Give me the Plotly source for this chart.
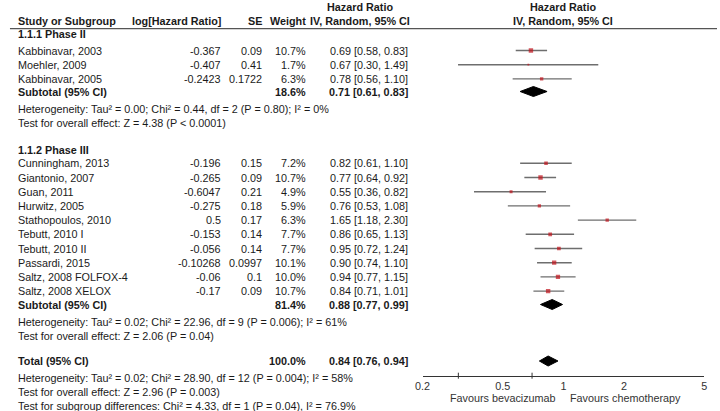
import math
import plotly.graph_objects as go

# ---------------- data ----------------
p2_studies = ["Kabbinavar, 2003", "Moehler, 2009", "Kabbinavar, 2005"]
p2_loghr = ["-0.367", "-0.407", "-0.2423"]
p2_se = ["0.09", "0.41", "0.1722"]
p2_weight = [10.7, 1.7, 6.3]
p2_hr = [0.69, 0.67, 0.78]
p2_lo = [0.58, 0.30, 0.56]
p2_hi = [0.83, 1.49, 1.10]

p3_studies = ["Cunningham, 2013", "Giantonio, 2007", "Guan, 2011", "Hurwitz, 2005",
              "Stathopoulos, 2010", "Tebutt, 2010 I", "Tebutt, 2010 II", "Passardi, 2015",
              "Saltz, 2008 FOLFOX-4", "Saltz, 2008 XELOX"]
p3_loghr = ["-0.196", "-0.265", "-0.6047", "-0.275", "0.5", "-0.153", "-0.056",
            "-0.10268", "-0.06", "-0.17"]
p3_se = ["0.15", "0.09", "0.21", "0.18", "0.17", "0.14", "0.14", "0.0997", "0.1", "0.09"]
p3_weight = [7.2, 10.7, 4.9, 5.9, 6.3, 7.7, 7.7, 10.1, 10.0, 10.7]
p3_hr = [0.82, 0.77, 0.55, 0.76, 1.65, 0.86, 0.95, 0.90, 0.94, 0.84]
p3_lo = [0.61, 0.64, 0.36, 0.53, 1.18, 0.65, 0.72, 0.74, 0.77, 0.71]
p3_hi = [1.10, 0.92, 0.82, 1.08, 2.30, 1.13, 1.24, 1.10, 1.15, 1.01]

sub_labels = ["Subtotal (95% CI)", "Subtotal (95% CI)", "Total (95% CI)"]
sub_weight = ["18.6%", "81.4%", "100.0%"]
sub_hr = [0.71, 0.88, 0.84]
sub_lo = [0.61, 0.77, 0.76]
sub_hi = [0.83, 0.99, 0.94]

p2_notes = ["Heterogeneity: Tau\u00b2 = 0.00; Chi\u00b2 = 0.44, df = 2 (P = 0.80); I\u00b2 = 0%",
            "Test for overall effect: Z = 4.38 (P < 0.0001)"]
p3_notes = ["Heterogeneity: Tau\u00b2 = 0.02; Chi\u00b2 = 22.96, df = 9 (P = 0.006); I\u00b2 = 61%",
            "Test for overall effect: Z = 2.06 (P = 0.04)"]
tot_notes = ["Heterogeneity: Tau\u00b2 = 0.02; Chi\u00b2 = 28.90, df = 12 (P = 0.004); I\u00b2 = 58%",
             "Test for overall effect: Z = 2.96 (P = 0.003)",
             "Test for subgroup differences: Chi\u00b2 = 4.33, df = 1 (P = 0.04), I\u00b2 = 76.9%"]

tick_vals = [0.2, 0.5, 1, 2, 5]
tick_text = ["0.2", "0.5", "1", "2", "5"]

# ---------------- layout (pixel rows) ----------------
W, H = 720, 411
PITCH = 14.2
HEADER_LINE = 28.7
AXIS_Y = 375.7
p2_head_y = 33.5
p2_rows = [50.5 + i * PITCH for i in range(len(p2_studies))]
p2_sub_y = 91.5
p2_note_y = [108.5, 122.5]
p3_head_y = 149.5
p3_rows = [163.3 + i * PITCH for i in range(len(p3_studies))]
p3_sub_y = 304.5
p3_note_y = [321.5, 335.5]
tot_y = 361.0
tot_note_y = [377.5, 391.5, 405.5]
sub_y = [p2_sub_y, p3_sub_y, tot_y]

X_NAME, X_LOGHR, X_SE, X_W, X_CI = 8, 218, 260, 305, 408
X_HDR = 357
X_ONE = 564

FONT = "Liberation Sans, Arial, sans-serif"
TXT = "#1a1a1a"
FS = 10.8

fig = go.Figure()
ann = []


def text(x, y, s, anchor="left", bold=False, size=FS, color=TXT):
    ann.append(dict(xref="paper", yref="y", x=x / W, y=y, text=("<b>%s</b>" % s) if bold else s,
                    showarrow=False, xanchor=anchor, yanchor="middle",
                    font=dict(family=FONT, size=size, color=color)))


def ci_text(h, lo, hi):
    return "%.2f [%.2f, %.2f]" % (h, lo, hi)


# headers
text(X_NAME, 21, "Study or Subgroup", bold=True)
text(X_LOGHR, 21, "log[Hazard Ratio]", anchor="right", bold=True)
text(X_SE, 21, "SE", anchor="right", bold=True)
text(X_W, 21, "Weight", anchor="right", bold=True)
text(X_HDR, 7, "Hazard Ratio", anchor="center", bold=True)
text(X_HDR, 21, "IV, Random, 95% CI", anchor="center", bold=True)
text(X_ONE, 7, "Hazard Ratio", anchor="center", bold=True)
text(X_ONE, 21, "IV, Random, 95% CI", anchor="center", bold=True)

text(X_NAME, p2_head_y, "1.1.1 Phase II", bold=True)
text(X_NAME, p3_head_y, "1.1.2 Phase III", bold=True)

groups = [(p2_studies, p2_loghr, p2_se, p2_weight, p2_hr, p2_lo, p2_hi, p2_rows),
          (p3_studies, p3_loghr, p3_se, p3_weight, p3_hr, p3_lo, p3_hi, p3_rows)]

for names, lh, se, wt, hr, lo, hi, rows in groups:
    for i, nm in enumerate(names):
        y = rows[i]
        text(X_NAME, y, nm)
        text(X_LOGHR, y, lh[i], anchor="right")
        text(X_SE, y, se[i], anchor="right")
        text(X_W, y, "%.1f%%" % wt[i], anchor="right")
        text(X_CI, y, ci_text(hr[i], lo[i], hi[i]), anchor="right")
        fig.add_trace(go.Scatter(x=[lo[i], hi[i]], y=[y, y], mode="lines",
                                 line=dict(color="#6e6e6e", width=1.4),
                                 hoverinfo="skip", showlegend=False))
    fig.add_trace(go.Scatter(x=hr, y=rows, mode="markers",
                             marker=dict(symbol="square", color="#c0121b",
                                         size=[1.35 * math.sqrt(w) for w in wt],
                                         line=dict(width=0)),
                             showlegend=False))

for k in range(3):
    y = sub_y[k]
    text(X_NAME, y, sub_labels[k], bold=True)
    text(X_W, y, sub_weight[k], anchor="right", bold=True)
    text(X_CI, y, ci_text(sub_hr[k], sub_lo[k], sub_hi[k]), anchor="right", bold=True)
    hh = 5.0
    fig.add_trace(go.Scatter(x=[sub_lo[k], sub_hr[k], sub_hi[k], sub_hr[k], sub_lo[k]],
                             y=[y, y - hh, y, y + hh, y], mode="lines", fill="toself",
                             fillcolor="#000000", line=dict(color="#000000", width=1),
                             hoverinfo="skip", showlegend=False))

for s, y in zip(p2_notes, p2_note_y):
    text(X_NAME, y, s)
for s, y in zip(p3_notes, p3_note_y):
    text(X_NAME, y, s)
for s, y in zip(tot_notes, tot_note_y):
    text(X_NAME, y, s)

# favours labels
text(559, 397.5, "Favours bevacizumab", anchor="right", color="#333")
text(569, 397.5, "Favours chemotherapy", anchor="left", color="#333")

shapes = [
    dict(type="line", xref="paper", yref="y", x0=2 / W, x1=1, y0=HEADER_LINE, y1=HEADER_LINE,
         line=dict(color="#555", width=1.3)),
    dict(type="line", xref="x", yref="y", x0=0, x1=0, y0=HEADER_LINE, y1=AXIS_Y,
         line=dict(color="#333", width=1)),
]
for tv in tick_vals:
    lx = math.log10(tv)
    shapes.append(dict(type="line", xref="x", yref="y", x0=lx, x1=lx, y0=AXIS_Y - 3, y1=AXIS_Y + 3,
                       line=dict(color="#333", width=1)))

fig.update_layout(
    width=W, height=H, margin=dict(l=0, r=0, t=0, b=0),
    paper_bgcolor="white", plot_bgcolor="white",
    annotations=ann, shapes=shapes, showlegend=False,
    xaxis=dict(type="log", range=[math.log10(0.2), math.log10(5)],
               domain=[421 / W, 707 / W], anchor="free", position=1 - AXIS_Y / H,
               showline=True, linecolor="#333", linewidth=1,
               ticks="", tickvals=tick_vals, ticktext=tick_text,
               tickfont=dict(family=FONT, size=FS, color="#333"),
               showgrid=False, zeroline=False, fixedrange=True),
    yaxis=dict(range=[H, 0], domain=[0, 1], visible=False, showgrid=False,
               zeroline=False, fixedrange=True),
)

fig.write_html("out.html", config={"displayModeBar": False},
               post_script="document.body.style.margin='0';document.body.style.overflow='hidden';")
